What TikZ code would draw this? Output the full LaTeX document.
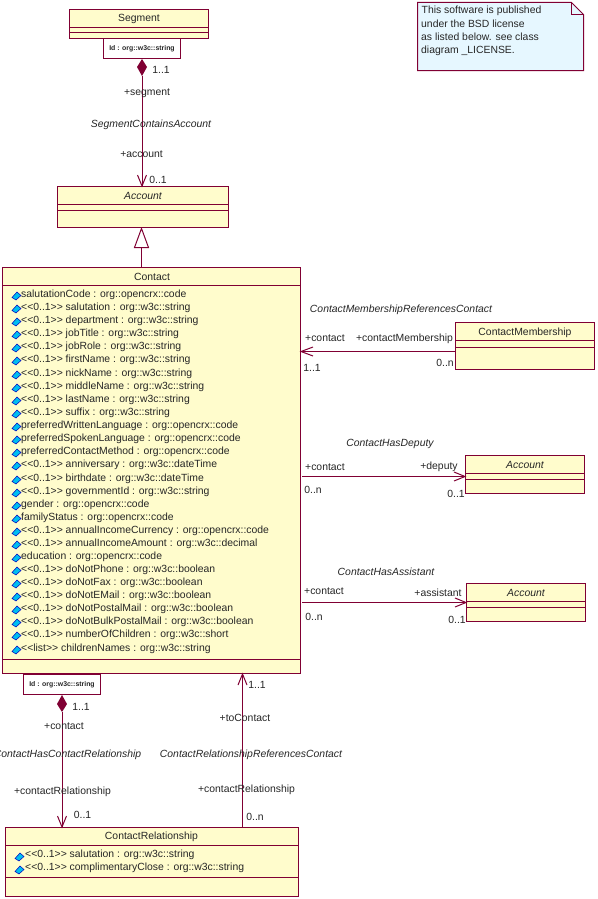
\documentclass[tikz,border=0pt]{standalone}
\usepackage{fontspec}
\setmainfont{Liberation Sans}
\definecolor{umlline}{RGB}{128,0,51}
\definecolor{umlfill}{RGB}{255,252,204}
\definecolor{notefill}{RGB}{230,247,255}
\definecolor{iconblue}{RGB}{0,190,240}
\newcommand{\umlfont}{\fontsize{10.4}{12}\selectfont}
\tikzset{
 x=1pt,y=-1pt,
 every node/.style={font=\umlfont,inner sep=0pt,text=black!85},
 umlbox/.style={draw=umlline,fill=umlfill,line width=1pt},
 rel/.style={draw=umlline,line width=1pt},
 attr/.style={anchor=west},
 lbl/.style={anchor=center},
 assoc/.style={anchor=center,font=\umlfont\itshape},
 title/.style={anchor=center},
 abstitle/.style={anchor=center,font=\umlfont\itshape},
 qual/.style={anchor=center,font=\fontsize{6.9}{9}\selectfont\bfseries},
 icon/.pic={
  \fill[iconblue,draw=blue!75!black,line width=.5pt] (-4.5,1.5) -- (0.5,-4) -- (4.5,-0.5) -- (-0.5,4) -- cycle;
 }
}
\begin{document}
\begin{tikzpicture}
\useasboundingbox (0,0) rectangle (597,899);
\fill[white] (0,0) rectangle (597,899);

% Segment
\draw[umlbox] (69.5,9.5) rectangle (208.5,38.5);
\draw[rel] (69.5,27.5) -- (208.5,27.5) (69.5,33) -- (208.5,33);
\node[title] (segment) at (139,19) {Segment};
\draw[umlbox,fill=white] (103.5,38.5) rectangle (180.5,58.5);
\node[qual] (segq) at (142,48.5) {Id : org::w3c::string};
\coordinate (segd) at (142,76);
\fill[umlline] (142,59) -- (147,67) -- (142,76) -- (137,67) -- cycle;

% Account main
\draw[umlbox] (57.5,186.5) rectangle (228.5,227.5);
\draw[rel] (57.5,204.5) -- (228.5,204.5) (57.5,210.5) -- (228.5,210.5);
\node[abstitle] (account) at (143,196) {Account};
\coordinate (acctop) at (142,186);
\draw[rel] (segd) -- (acctop);
\draw[rel] (137.5,175) -- (acctop) -- (146.5,175);
\node[lbl] at (161,69.5) {1..1};
\node[lbl] at (147,93) {+segment};
\node[assoc] at (151,125) {SegmentContainsAccount};
\node[lbl] at (141.5,154) {+account};
\node[lbl] at (158,179.5) {0..1};

% Generalisation
\draw[rel] (141.5,247) -- (141.5,267.5);
\draw[rel] (141.5,228.5) -- (148.5,247.5) -- (134.5,247.5) -- cycle;

% Contact
\draw[umlbox] (2.5,267.5) rectangle (300.5,673.5);
\draw[rel] (2.5,285.5) -- (300.5,285.5) (2.5,659.5) -- (300.5,659.5);
\node[title] (contact) at (152,277) {Contact};
\foreach \yy/\tt in {
294/{salutationCode : org::opencrx::code},
307/{<{}<0..1>{}> salutation : org::w3c::string},
320/{<{}<0..1>{}> department : org::w3c::string},
333/{<{}<0..1>{}> jobTitle : org::w3c::string},
346/{<{}<0..1>{}> jobRole : org::w3c::string},
359/{<{}<0..1>{}> firstName : org::w3c::string},
373/{<{}<0..1>{}> nickName : org::w3c::string},
386/{<{}<0..1>{}> middleName : org::w3c::string},
399/{<{}<0..1>{}> lastName : org::w3c::string},
412/{<{}<0..1>{}> suffix : org::w3c::string},
425/{preferredWrittenLanguage : org::opencrx::code},
438/{preferredSpokenLanguage : org::opencrx::code},
451/{preferredContactMethod : org::opencrx::code},
464/{<{}<0..1>{}> anniversary : org::w3c::dateTime},
478/{<{}<0..1>{}> birthdate : org::w3c::dateTime},
491/{<{}<0..1>{}> governmentId : org::w3c::string},
504/{gender : org::opencrx::code},
517/{familyStatus : org::opencrx::code},
530/{<{}<0..1>{}> annualIncomeCurrency : org::opencrx::code},
543/{<{}<0..1>{}> annualIncomeAmount : org::w3c::decimal},
556/{education : org::opencrx::code},
569/{<{}<0..1>{}> doNotPhone : org::w3c::boolean},
582/{<{}<0..1>{}> doNotFax : org::w3c::boolean},
595/{<{}<0..1>{}> doNotEMail : org::w3c::boolean},
608/{<{}<0..1>{}> doNotPostalMail : org::w3c::boolean},
621/{<{}<0..1>{}> doNotBulkPostalMail : org::w3c::boolean},
634/{<{}<0..1>{}> numberOfChildren : org::w3c::short},
648/{<{}<list>{}> childrenNames : org::w3c::string}}{
 \pic at (16.5,\yy+2) {icon};
 \node[attr] at (21,\yy+.5) {\tt};
}

% Contact qualifier
\draw[umlbox,fill=white] (23.5,674) rectangle (100.5,694);
\node[qual] (conq) at (62,684.5) {Id : org::w3c::string};
\coordinate (cond) at (62,712);
\fill[umlline] (62,695) -- (67,704) -- (62,712) -- (57,704) -- cycle;

% ContactRelationship
\draw[umlbox] (5.5,827.5) rectangle (298.5,896.5);
\draw[rel] (5.5,845.5) -- (298.5,845.5) (5.5,877.5) -- (298.5,877.5);
\node[title] (cr) at (151.5,837) {ContactRelationship};
\pic at (19.5,857) {icon};
\pic at (19.5,870) {icon};
\node[attr] at (25,854.5) {<{}<0..1>{}> salutation : org::w3c::string};
\node[attr] at (25,867.5) {<{}<0..1>{}> complimentaryClose : org::w3c::string};
\coordinate (crl) at (62,827);
\coordinate (crr) at (242.5,827);
\coordinate (conb) at (242.5,674);
\draw[rel] (cond) -- (crl);
\draw[rel] (57.5,816) -- (crl) -- (66.5,816);
\draw[rel] (crr) -- (conb);
\draw[rel] (238,685) -- (conb) -- (247,685);
\node[lbl] at (81,707) {1..1};
\node[lbl] at (64,726) {+contact};
\node[assoc,anchor=east] at (141.5,755) {ContactHasContactRelationship};
\node[lbl] at (62.5,792) {+contactRelationship};
\node[lbl] at (82.5,815) {0..1};
\node[lbl] at (257,685) {1..1};
\node[lbl] at (245,718) {+toContact};
\node[assoc] at (251,755) {ContactRelationshipReferencesContact};
\node[lbl] at (246.5,790) {+contactRelationship};
\node[lbl] at (255,817) {0..n};

% ContactMembership
\draw[umlbox] (455.5,322.5) rectangle (594.5,369.5);
\draw[rel] (455.5,340.5) -- (594.5,340.5) (455.5,347.5) -- (594.5,347.5);
\node[title] (cm) at (525,333) {ContactMembership};
\coordinate (cmw) at (455,351.5);
\coordinate (conr1) at (301,351.5);
\draw[rel] (cmw) -- (conr1);
\draw[rel] (313,347) -- (conr1) -- (313,356);
\node[assoc] at (401,310) {ContactMembershipReferencesContact};
\node[lbl] at (325,338) {+contact};
\node[lbl] at (404.5,339) {+contactMembership};
\node[lbl] at (445,363) {0..n};
\node[lbl] at (312,368) {1..1};

% Account deputy
\draw[umlbox] (465.5,455.5) rectangle (584.5,493.5);
\draw[rel] (465.5,473.5) -- (584.5,473.5) (465.5,479.5) -- (584.5,479.5);
\node[abstitle] (acc2) at (525,465) {Account};
\coordinate (conr2) at (302,476.5);
\coordinate (acc2w) at (465,476.5);
\draw[rel] (conr2) -- (acc2w);
\draw[rel] (454,472) -- (acc2w) -- (454,481);
\node[assoc] at (390,444) {ContactHasDeputy};
\node[lbl] at (325,467) {+contact};
\node[lbl] at (439,467) {+deputy};
\node[lbl] at (313,490) {0..n};
\node[lbl] at (456,494) {0..1};

% Account assistant
\draw[umlbox] (466.5,583.5) rectangle (585.5,621.5);
\draw[rel] (466.5,601.5) -- (585.5,601.5) (466.5,607.5) -- (585.5,607.5);
\node[abstitle] (acc3) at (526,593) {Account};
\coordinate (conr3) at (302,602.5);
\coordinate (acc3w) at (466,602.5);
\draw[rel] (conr3) -- (acc3w);
\draw[rel] (455,598) -- (acc3w) -- (455,607);
\node[assoc] at (386,572) {ContactHasAssistant};
\node[lbl] at (324,591) {+contact};
\node[lbl] at (438,593) {+assistant};
\node[lbl] at (314,617) {0..n};
\node[lbl] at (457,620) {0..1};

% Note
\draw[rel,fill=notefill] (417.5,2.5) -- (571.5,2.5) -- (583.5,14.5) -- (583.5,70.5) -- (417.5,70.5) -- cycle;
\draw[rel] (571.5,2.5) -- (571.5,14.5) -- (583.5,14.5);
\node[anchor=west] (note1) at (421.5,11) {This software is published};
\node[anchor=west] (note2) at (421,24) {under the BSD license};
\node[anchor=west] (note3) at (421,37) {as listed below. see class};
\node[anchor=west] (note4) at (421,50.5) {diagram \_LICENSE.};
\end{tikzpicture}
\end{document}
